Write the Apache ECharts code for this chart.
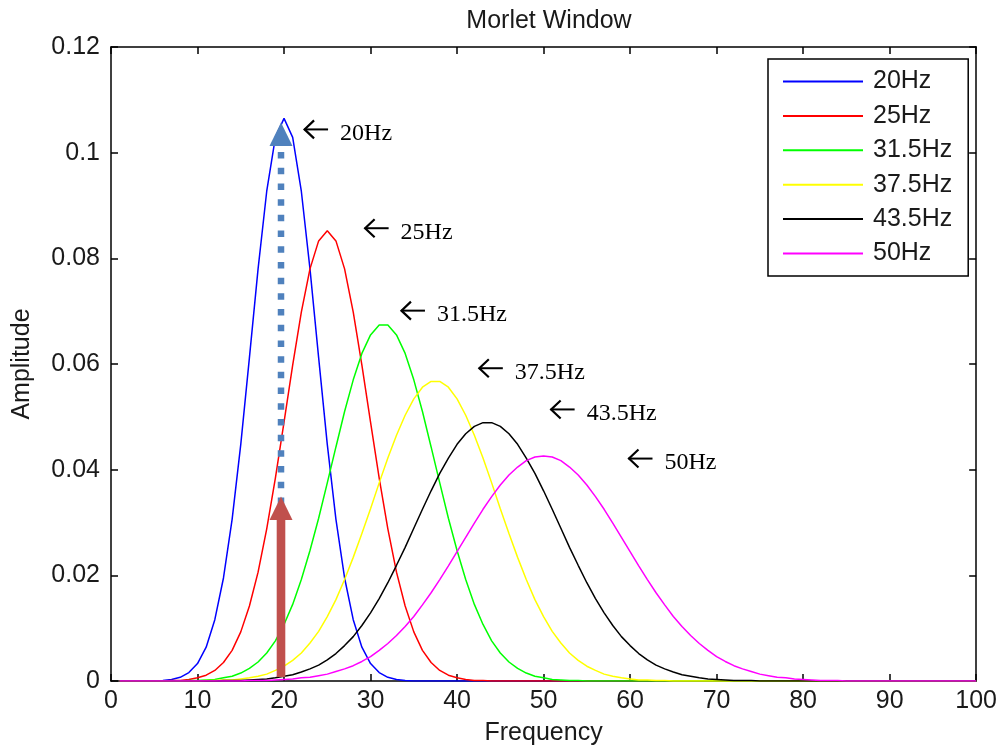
<!DOCTYPE html>
<html><head><meta charset="utf-8">
<script src="https://cdn.jsdelivr.net/npm/echarts@6/dist/echarts.min.js"></script>
<style>html,body{margin:0;padding:0;background:#fff}#c{width:1000px;height:751px}</style>
</head><body><div id="c"></div>
<script>
// ---- data ----
const freq = [1,2,3,4,5,6,7,8,9,10,11,12,13,14,15,16,17,18,19,20,21,22,23,24,25,26,27,28,29,30,
31,32,33,34,35,36,37,38,39,40,41,42,43,44,45,46,47,48,49,50,51,52,53,54,55,56,57,58,59,60,
61,62,63,64,65,66,67,68,69,70,71,72,73,74,75,76,77,78,79,80,81,82,83,84,85,86,87,88,89,90,
91,92,93,94,95,96,97,98,99,100];

const amp20 = [0,0,0,0,0,0.0001,0.0003,0.0007,0.0016,0.0033,
0.0064,0.0116,0.0195,0.0306,0.0448,0.0612,0.0780,0.0927,0.1029,0.1065,
0.1029,0.0927,0.0780,0.0612,0.0448,0.0306,0.0195,0.0116,0.0064,0.0033,
0.0016,0.0007,0.0003,0.0001,0,0,0,0,0,0,
0,0,0,0,0,0,0,0,0,0, 0,0,0,0,0,0,0,0,0,0, 0,0,0,0,0,0,0,0,0,0,
0,0,0,0,0,0,0,0,0,0, 0,0,0,0,0,0,0,0,0,0, 0,0,0,0,0,0,0,0,0,0];

const amp25 = [0,0,0,0,0,0,0.0001,0.0001,0.0003,0.0006,
0.0011,0.0020,0.0035,0.0058,0.0093,0.0142,0.0206,0.0288,0.0384,0.0490,
0.0598,0.0698,0.0780,0.0833,0.0852,0.0833,0.0780,0.0698,0.0598,0.0490,
0.0384,0.0288,0.0206,0.0142,0.0093,0.0058,0.0035,0.0020,0.0011,0.0006,
0.0003,0.0001,0.0001,0,0,0,0,0,0,0,
0,0,0,0,0,0,0,0,0,0, 0,0,0,0,0,0,0,0,0,0, 0,0,0,0,0,0,0,0,0,0,
0,0,0,0,0,0,0,0,0,0, 0,0,0,0,0,0,0,0,0,0];

const amp315 = [0,0,0,0,0,0,0,0,0.0001,0.0001,
0.0002,0.0003,0.0006,0.0009,0.0015,0.0024,0.0036,0.0053,0.0076,0.0107,
0.0145,0.0192,0.0247,0.0308,0.0375,0.0443,0.0510,0.0570,0.0620,0.0655,
0.0674,0.0674,0.0655,0.0620,0.0570,0.0510,0.0443,0.0375,0.0308,0.0247,
0.0192,0.0145,0.0107,0.0076,0.0053,0.0036,0.0024,0.0015,0.0009,0.0006,
0.0003,0.0002,0.0001,0.0001,0,0,0,0,0,0,
0,0,0,0,0,0,0,0,0,0, 0,0,0,0,0,0,0,0,0,0, 0,0,0,0,0,0,0,0,0,0, 0,0,0,0,0,0,0,0,0,0];

const amp375 = [0,0,0,0,0,0,0,0,0,0,
0.0001,0.0001,0.0002,0.0002,0.0004,0.0006,0.0009,0.0013,0.0020,0.0028,
0.0039,0.0053,0.0072,0.0094,0.0122,0.0154,0.0192,0.0234,0.0279,0.0326,
0.0375,0.0422,0.0465,0.0503,0.0534,0.0556,0.0567,0.0567,0.0556,0.0534,
0.0503,0.0465,0.0422,0.0375,0.0326,0.0279,0.0234,0.0192,0.0154,0.0122,
0.0094,0.0072,0.0053,0.0039,0.0028,0.0020,0.0013,0.0009,0.0006,0.0004,
0.0002,0.0002,0.0001,0.0001,0,0,0,0,0,0,
0,0,0,0,0,0,0,0,0,0, 0,0,0,0,0,0,0,0,0,0, 0,0,0,0,0,0,0,0,0,0];

const amp435 = [0,0,0,0,0,0,0,0,0,0,
0,0,0.0001,0.0001,0.0001,0.0002,0.0003,0.0004,0.0006,0.0009,
0.0012,0.0017,0.0023,0.0030,0.0040,0.0052,0.0067,0.0084,0.0105,0.0129,
0.0156,0.0186,0.0219,0.0253,0.0289,0.0325,0.0360,0.0393,0.0422,0.0448,
0.0468,0.0482,0.0489,0.0489,0.0482,0.0468,0.0448,0.0422,0.0393,0.0360,
0.0325,0.0289,0.0253,0.0219,0.0186,0.0156,0.0129,0.0105,0.0084,0.0067,
0.0052,0.0040,0.0030,0.0023,0.0017,0.0012,0.0009,0.0006,0.0004,0.0003,
0.0002,0.0001,0.0001,0.0001,0,0,0,0,0,0,
0,0,0,0,0,0,0,0,0,0, 0,0,0,0,0,0,0,0,0,0];

const amp50 = [0,0,0,0,0,0,0,0,0,0,
0,0,0,0,0,0.0001,0.0001,0.0001,0.0002,0.0003,
0.0004,0.0006,0.0007,0.0010,0.0013,0.0018,0.0023,0.0029,0.0037,0.0046,
0.0058,0.0071,0.0086,0.0103,0.0122,0.0144,0.0167,0.0192,0.0218,0.0245,
0.0272,0.0299,0.0325,0.0349,0.0371,0.0390,0.0405,0.0417,0.0424,0.0426,
0.0424,0.0417,0.0405,0.0390,0.0371,0.0349,0.0325,0.0299,0.0272,0.0245,
0.0218,0.0192,0.0167,0.0144,0.0122,0.0103,0.0086,0.0071,0.0058,0.0046,
0.0037,0.0029,0.0023,0.0018,0.0013,0.0010,0.0007,0.0006,0.0004,0.0003,
0.0002,0.0001,0.0001,0.0001,0,0,0,0,0,0,
0,0,0,0,0,0,0,0,0,0];

const seriesNames = ['20Hz','25Hz','31.5Hz','37.5Hz','43.5Hz','50Hz'];
const seriesValues = [amp20, amp25, amp315, amp375, amp435, amp50];
const seriesColors = ['#0000ff','#ff0000','#00ff00','#ffff00','#000000','#ff00ff'];

const xTickMin = 0, xTickMax = 100, xTickStep = 10;
const yTickMin = 0, yTickMax = 0.12, yTickStep = 0.02;

// annotation arrows "← label" (data coords of arrow left end)
const noteLabels = ['20Hz','25Hz','31.5Hz','37.5Hz','43.5Hz','50Hz'];
const noteX = [22.2, 29.2, 33.4, 42.4, 50.7, 59.7];
const noteY = [0.1044, 0.0857, 0.0701, 0.0592, 0.0514, 0.0421];

// vertical marker arrows at ~20 Hz: dashed blue (tall), solid red (short)
const markerX = [19.65, 19.65];
const markerTop = [0.1057, 0.0349];

// ---- chart ----
const SANS = '"Liberation Sans", Arial, Helvetica, sans-serif';
const SERIF = '"Liberation Serif", "Times New Roman", serif';
const TXT = '#1a1a1a';
const FS = 25;

const chart = echarts.init(document.getElementById('c'), null, {renderer:'canvas'});

function axisCommon(showLabels){
  return {
    axisLine:{show:true, onZero:false, lineStyle:{color:'#000', width:1.5}},
    axisTick:{show:true, inside:true, length:7, lineStyle:{color:'#000', width:1.5}},
    splitLine:{show:false},
    axisLabel:{show:showLabels, color:TXT, fontFamily:SANS, fontSize:FS}
  };
}

const lineSeries = seriesNames.map((n,i)=>({
  name:n, type:'line', xAxisIndex:0, yAxisIndex:0,
  data: freq.map((f,k)=>[f, seriesValues[i][k]]),
  symbol:'none', showSymbol:false, smooth:false,
  lineStyle:{color:seriesColors[i], width:1.5},
  itemStyle:{color:seriesColors[i]},
  emphasis:{disabled:true}, animation:false, z:2
}));

const noteSeries = {
  type:'custom', xAxisIndex:0, yAxisIndex:0, coordinateSystem:'cartesian2d',
  data: noteX.map((x,i)=>[x, noteY[i]]), clip:false, animation:false, z:5,
  silent:true,
  renderItem:function(params, api){
    const p = api.coord([api.value(0), api.value(1)]);
    const x = p[0], y = p[1];
    return {type:'group', children:[
      {type:'polyline', shape:{points:[[x+1,y],[x+25,y]]}, style:{stroke:'#000', lineWidth:2, fill:'none'}},
      {type:'polyline', shape:{points:[[x+11,y-9],[x+1.5,y],[x+11,y+9]]}, style:{stroke:'#000', lineWidth:2.2, fill:'none'}},
      {type:'text', x:x+37, y:y+4, style:{text:noteLabels[params.dataIndex], font:'24px ' + SERIF, fill:'#000', align:'left', verticalAlign:'middle'}}
    ]};
  }
};

const markerSeries = {
  type:'custom', xAxisIndex:0, yAxisIndex:0, coordinateSystem:'cartesian2d',
  data: markerX.map((x,i)=>[x, markerTop[i]]), clip:false, animation:false, z:6,
  silent:true,
  renderItem:function(params, api){
    const i = params.dataIndex;
    const b = api.coord([api.value(0), 0]);
    const t = api.coord([api.value(0), api.value(1)]);
    const x = b[0], headLen = 23.5, half = 11.5;
    if (i === 0) {
      return {type:'group', children:[
        {type:'line', shape:{x1:x, y1:t[1]+headLen+6, x2:x, y2:b[1]-2},
          style:{stroke:'#4f81bd', lineWidth:6.5, lineDash:[6.5,9.2], lineCap:'butt', fill:'none'}},
        {type:'polygon', shape:{points:[[x,t[1]],[x-half,t[1]+headLen],[x+half,t[1]+headLen]]},
          style:{fill:'#4f81bd', stroke:'none'}}
      ]};
    }
    return {type:'group', children:[
      {type:'rect', shape:{x:x-4.3, y:t[1]+headLen-1, width:8.6, height:(b[1]-4)-(t[1]+headLen-1)},
        style:{fill:'#c0504d', stroke:'none'}},
      {type:'polygon', shape:{points:[[x,t[1]],[x-half,t[1]+headLen],[x+half,t[1]+headLen]]},
        style:{fill:'#c0504d', stroke:'none'}}
    ]};
  }
};

const option = {
  animation:false,
  backgroundColor:'#fff',
  title:{text:'Morlet Window', left:544, top:4, textAlign:'center',
    textStyle:{fontFamily:SANS, fontSize:FS, fontWeight:'normal', color:TXT}},
  legend:{
    data:seriesNames, orient:'vertical', left:768, top:59,
    padding:[10,16,10,14], itemGap:9.4, itemWidth:80, itemHeight:24,
    itemStyle:{opacity:0, borderWidth:0},
    lineStyle:{opacity:1},
    textStyle:{fontFamily:SANS, fontSize:FS, color:TXT, lineHeight:24, padding:[0,0,0,5]},
    borderColor:'#000', borderWidth:1.5, backgroundColor:'#fff',
    selectedMode:false, z:10
  },
  grid:{left:111, right:23, top:47, bottom:69.5, containLabel:false},
  xAxis:[
    Object.assign({type:'value', position:'bottom', min:xTickMin, max:xTickMax, interval:xTickStep,
      name:'Frequency', nameLocation:'middle', nameGap:40,
      nameTextStyle:{fontFamily:SANS, fontSize:FS, color:TXT}}, axisCommon(true),
      {axisLabel:{show:true, color:TXT, fontFamily:SANS, fontSize:FS, margin:8}}),
    Object.assign({type:'value', position:'top', min:xTickMin, max:xTickMax, interval:xTickStep}, axisCommon(false))
  ],
  yAxis:[
    Object.assign({type:'value', position:'left', min:yTickMin, max:yTickMax, interval:yTickStep,
      name:'Amplitude', nameLocation:'middle', nameGap:76,
      nameTextStyle:{fontFamily:SANS, fontSize:FS, color:TXT}}, axisCommon(true),
      {axisLabel:{show:true, color:TXT, fontFamily:SANS, fontSize:FS, margin:11,
        formatter:v=> v===0 ? '0' : String(+v.toFixed(2))}}),
    Object.assign({type:'value', position:'right', min:yTickMin, max:yTickMax, interval:yTickStep}, axisCommon(false))
  ],
  series: lineSeries.concat([noteSeries, markerSeries])
};
chart.setOption(option);
</script></body></html>
